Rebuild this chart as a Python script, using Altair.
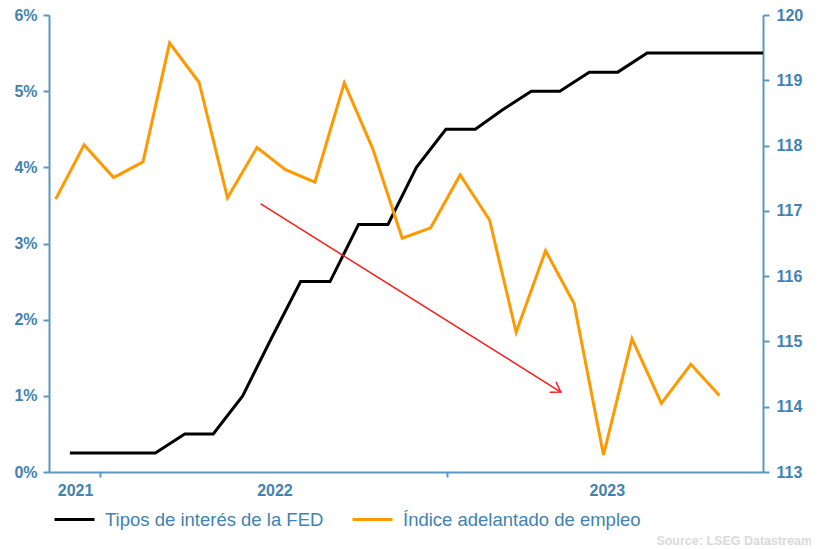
import altair as alt
import pandas as pd

# ---- data ----
fed_dates = ["2021-11-30", "2021-12-31", "2022-01-31", "2022-02-28", "2022-03-31",
             "2022-04-30", "2022-05-31", "2022-06-30", "2022-07-31", "2022-08-31",
             "2022-09-30", "2022-10-31", "2022-11-30", "2022-12-31", "2023-01-31",
             "2023-02-28", "2023-03-31", "2023-04-30", "2023-05-31", "2023-06-30",
             "2023-07-31", "2023-08-31", "2023-09-30", "2023-10-31", "2023-11-30"]
fed_values = [0.25, 0.25, 0.25, 0.25, 0.5, 0.5, 1.0, 1.75, 2.5, 2.5, 3.25, 3.25, 4.0,
              4.5, 4.5, 4.75, 5.0, 5.0, 5.25, 5.25, 5.5, 5.5, 5.5, 5.5, 5.5]

emp_dates = ["2021-11-15", "2021-12-15", "2022-01-15", "2022-02-15", "2022-03-15",
             "2022-04-15", "2022-05-15", "2022-06-15", "2022-07-15", "2022-08-15",
             "2022-09-15", "2022-10-15", "2022-11-15", "2022-12-15", "2023-01-15",
             "2023-02-15", "2023-03-15", "2023-04-15", "2023-05-15", "2023-06-15",
             "2023-07-15", "2023-08-15", "2023-09-15", "2023-10-15"]
emp_values = [117.18, 118.01, 117.51, 117.75, 119.57, 118.97, 117.20, 117.97, 117.63,
              117.44, 118.96, 117.95, 116.58, 116.74, 117.55, 116.86, 115.14, 116.39,
              115.58, 113.26, 115.04, 114.05, 114.65, 114.17]

series_names = ["Tipos de interés de la FED", "Índice adelantado de empleo"]
series_colors = ["#000000", "#ff9900"]

arrow_dates = ["2022-06-19", "2023-05-01"]
arrow_values = [3.52, 1.05]

year_labels = ["2021", "2022", "2023"]
year_label_dates = ["2021-12-06", "2022-07-04", "2023-06-19"]

left_ticks = [0, 1, 2, 3, 4, 5, 6]
right_ticks = [113, 114, 115, 116, 117, 118, 119, 120]
x_tick_dates = ["2022-01-01", "2023-01-01"]

source_text = ["Source: LSEG Datastream"]

# ---- styling ----
AXIS_COLOR = "#5b97c0"
LABEL_COLOR = "#4282b0"
FONT = "Liberation Sans"
W, H = 714, 457

fed_df = pd.DataFrame({"fecha": fed_dates, "valor": fed_values, "serie": series_names[0]})
emp_df = pd.DataFrame({"fecha": emp_dates, "valor": emp_values, "serie": series_names[1]})
arrow_df = pd.DataFrame({"fecha": arrow_dates[:1], "valor": arrow_values[:1],
                         "fecha2": arrow_dates[1:], "valor2": arrow_values[1:]})
head_df = pd.DataFrame({"fecha": arrow_dates[1:], "valor": arrow_values[1:]})
years_df = pd.DataFrame({"fecha": year_label_dates, "label": year_labels})
source_df = pd.DataFrame({"t": source_text})

xscale = alt.Scale(domain=["2021-11-08", "2023-11-30"])
xaxis = alt.Axis(values=x_tick_dates, labels=False, title=None, grid=False,
                 domainColor=AXIS_COLOR, domainWidth=2, tickColor=AXIS_COLOR,
                 tickWidth=2, tickSize=5)


def xenc(field="fecha"):
    return alt.X(f"{field}:T", scale=xscale, axis=xaxis, title=None)


color = alt.Color("serie:N",
                  scale=alt.Scale(domain=series_names, range=series_colors),
                  legend=alt.Legend(orient="none", legendX=4, legendY=483,
                                    direction="horizontal", title=None,
                                    symbolType="stroke", symbolSize=1600,
                                    symbolStrokeWidth=3, labelFont=FONT,
                                    labelFontSize=18.5, labelColor=LABEL_COLOR,
                                    labelOffset=9, columnPadding=22, padding=0,
                                    labelLimit=400))

left_scale = alt.Scale(domain=[0, 6], nice=False, zero=False)
right_scale = alt.Scale(domain=[113, 120], nice=False, zero=False)

left_axis = alt.Axis(orient="left", values=left_ticks, labelExpr="datum.value + '%'",
                     title=None, grid=False, domainColor=AXIS_COLOR, domainWidth=2,
                     tickColor=AXIS_COLOR, tickWidth=2, tickSize=6, labelPadding=6,
                     labelFont=FONT, labelFontWeight="bold", labelFontSize=16,
                     labelColor=LABEL_COLOR)
right_axis = alt.Axis(orient="right", values=right_ticks, format="d",
                      title=None, grid=False, domainColor=AXIS_COLOR, domainWidth=2,
                      tickColor=AXIS_COLOR, tickWidth=2, tickSize=6, labelPadding=7,
                      labelFont=FONT, labelFontWeight="bold", labelFontSize=16,
                      labelColor=LABEL_COLOR)

fed_line = alt.Chart(fed_df).mark_line(strokeWidth=3).encode(
    x=xenc(), y=alt.Y("valor:Q", scale=left_scale, axis=left_axis), color=color)

arrow_line = alt.Chart(arrow_df).mark_rule(color="#ff1a1a", strokeWidth=1.5).encode(
    x=xenc(), x2="fecha2:T",
    y=alt.Y("valor:Q", scale=left_scale, axis=left_axis), y2="valor2:Q")

arrow_head = alt.Chart(head_df).mark_point(
    shape="M-0.84,-0.54L0,0L-0.84,0.54", filled=False, color="#ff1a1a",
    strokeWidth=1.5, size=500, angle=32, opacity=1).encode(
    x=xenc(), y=alt.Y("valor:Q", scale=left_scale, axis=left_axis))

left_group = alt.layer(fed_line, arrow_line, arrow_head)

emp_line = alt.Chart(emp_df).mark_line(strokeWidth=3).encode(
    x=xenc(), y=alt.Y("valor:Q", scale=right_scale, axis=right_axis), color=color)

year_text = alt.Chart(years_df).mark_text(
    font=FONT, fontWeight="bold", fontSize=16, color=LABEL_COLOR,
    align="center", baseline="alphabetic").encode(
    x=xenc(), y=alt.value(H + 24), text="label:N")

source = alt.Chart(source_df).mark_text(
    font=FONT, fontWeight="bold", fontSize=12.5, color="#dadada",
    align="right", baseline="alphabetic").encode(
    x=alt.value(763), y=alt.value(530), text="t:N")

chart = alt.layer(left_group, emp_line, year_text, source).resolve_scale(
    y="independent").properties(
    width=W, height=H,
    autosize=alt.AutoSizeParams(type="none"),
    padding={"left": 41, "top": 7, "right": 48, "bottom": 75},
    background="white",
).configure_view(stroke=None, strokeWidth=0)

chart.save("out.html", embed_options={"renderer": "svg", "actions": False})
